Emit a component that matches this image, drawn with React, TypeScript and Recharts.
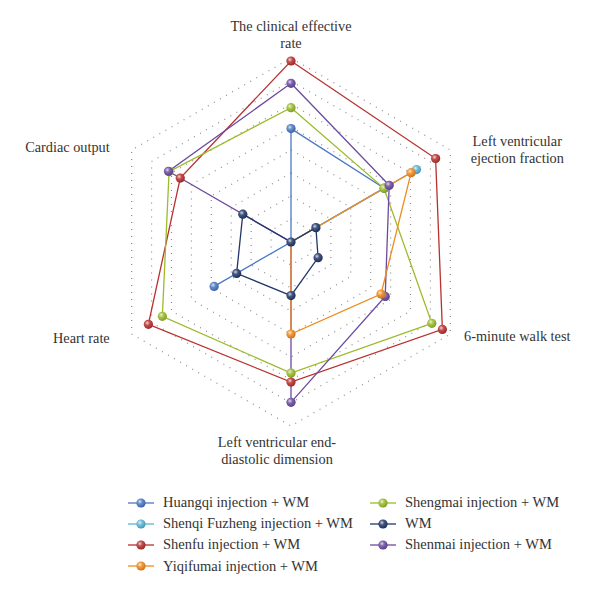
import React from "react";
import {
  RadarChart,
  PolarGrid,
  PolarAngleAxis,
  PolarRadiusAxis,
  Radar
} from "recharts";

// axes, clockwise from the top
const indicators = [
  "The clinical effective rate",
  "Left ventricular ejection fraction",
  "6-minute walk test",
  "Left ventricular end-diastolic dimension",
  "Heart rate",
  "Cardiac output"
];

// values (scale 0-8)
const huangqi = [4.93, 4.68, 0, 0, 3.86, 0];
const shenqiFuzheng = [0, 6.3, 0, 0, 0, 0];
const shenfu = [7.87, 7.26, 7.6, 6.09, 7.16, 5.56];
const yiqifumai = [0, 6.03, 4.52, 4.0, 0, 0];
const shengmai = [5.84, 4.67, 7.07, 5.7, 6.46, 6.12];
const wm = [0, 1.25, 1.36, 2.33, 2.73, 2.42];
const shenmai = [6.9, 4.93, 4.73, 6.97, 0, 6.15];

const seriesNames = [
  "Huangqi injection + WM",
  "Shenqi Fuzheng injection + WM",
  "Shenfu injection + WM",
  "Yiqifumai injection + WM",
  "Shengmai injection + WM",
  "WM",
  "Shenmai injection + WM"
];
const seriesValues = [huangqi, shenqiFuzheng, shenfu, yiqifumai, shengmai, wm, shenmai];
const COLORS = ["#4a78c4", "#5ab4d6", "#b8312f", "#ef8a1f", "#9bbb2b", "#22386a", "#6b4aa0"];

// paint order: WM last so its centre dot sits on top
const drawOrder = [0, 1, 2, 4, 6, 3, 5];

const data = indicators.map((name, i) => {
  const row: Record<string, string | number> = { indicator: name };
  seriesValues.forEach((vals, s) => {
    row["s" + s] = vals[i];
  });
  return row;
});

const FONT = "'Liberation Serif', 'DejaVu Serif', serif";

// label lines and placement tweaks per axis
const labelLines = [
  ["The clinical effective", "rate"],
  ["Left ventricular", "ejection fraction"],
  ["6-minute walk test"],
  ["Left ventricular end-", "diastolic dimension"],
  ["Heart rate"],
  ["Cardiac output"]
];
const labelPos = [
  { dx: 0, dy: -19, anchor: "middle" },
  { dx: 60, dy: 0, anchor: "middle" },
  { dx: 60, dy: 3, anchor: "middle" },
  { dx: -14, dy: 13, anchor: "middle" },
  { dx: -15, dy: 5, anchor: "end" },
  { dx: -15, dy: 6, anchor: "end" }
];

function AxisTick(props: any) {
  const { x, y, payload } = props;
  const i = indicators.indexOf(payload.value);
  const pos = labelPos[i];
  return (
    <text
      x={x + pos.dx}
      y={y + pos.dy}
      textAnchor={pos.anchor}
      fontFamily={FONT}
      fontSize={14.3}
      fill="#333"
    >
      {labelLines[i].map((line, k) => (
        <tspan key={k} x={x + pos.dx} dy={k === 0 ? 0 : 16.5}>
          {line}
        </tspan>
      ))}
    </text>
  );
}

function Ball({ cx, cy, color, id }: { cx: number; cy: number; color: string; id: string }) {
  return (
    <g>
      <defs>
        <radialGradient id={id} cx="38%" cy="35%" r="65%">
          <stop offset="0%" stopColor="#ffffff" stopOpacity={0.8} />
          <stop offset="40%" stopColor="#ffffff" stopOpacity={0.15} />
          <stop offset="100%" stopColor="#000000" stopOpacity={0.15} />
        </radialGradient>
      </defs>
      <circle cx={cx} cy={cy} r={4.6} fill={color} />
      <circle cx={cx} cy={cy} r={4.6} fill={`url(#${id})`} />
    </g>
  );
}

function makeDot(s: number) {
  return (props: any) => {
    const idx = props.index;
    const value = seriesValues[s][idx];
    // only WM keeps a marker at the centre
    if (!value && s !== 5) return <g key={`d${s}-${idx}`} />;
    return (
      <Ball
        key={`d${s}-${idx}`}
        cx={props.cx}
        cy={props.cy}
        color={COLORS[s]}
        id={`ball-${s}-${idx}`}
      />
    );
  };
}

function LegendIcon({ color, id }: { color: string; id: string }) {
  return (
    <svg width={26} height={12} style={{ display: "block" }}>
      <line x1={0} y1={6} x2={26} y2={6} stroke={color} strokeWidth={1.3} />
      <Ball cx={13} cy={6} color={color} id={id} />
    </svg>
  );
}

function ChartLegend() {
  const cols = [
    { left: 120, items: [0, 1, 2, 3] },
    { left: 362, items: [4, 5, 6] }
  ];
  return (
    <>
      {cols.map((col, c) => (
        <div key={c} style={{ position: "absolute", left: col.left, top: 484 }}>
          {col.items.map(s => (
            <div
              key={s}
              style={{ display: "flex", alignItems: "center", height: 21.2 }}
            >
              <LegendIcon color={COLORS[s]} id={`leg-${s}`} />
              <span
                style={{
                  marginLeft: 9,
                  fontFamily: FONT,
                  fontSize: 14.5,
                  color: "#333",
                  whiteSpace: "nowrap"
                }}
              >
                {seriesNames[s]}
              </span>
            </div>
          ))}
        </div>
      ))}
    </>
  );
}

export default function App() {
  return (
    <div style={{ position: "relative", width: 584, height: 587 }}>
      <RadarChart
        width={584}
        height={480}
        data={data}
        cx={283}
        cy={234}
        outerRadius={184}
        margin={{ top: 0, right: 0, bottom: 0, left: 0 }}
      >
        <PolarGrid
          gridType="polygon"
          radialLines={false}
          stroke="#8a8a8a"
          strokeWidth={1.2}
          strokeDasharray="1 6"
        />
        <PolarAngleAxis
          dataKey="indicator"
          tick={AxisTick}
          tickLine={false}
          axisLine={false}
        />
        <PolarRadiusAxis
          domain={[0, 8]}
          tickCount={9}
          tick={false}
          axisLine={false}
        />
        {drawOrder.map(s => (
          <Radar
            key={s}
            name={seriesNames[s]}
            dataKey={"s" + s}
            stroke={COLORS[s]}
            strokeWidth={1.3}
            fill="none"
            fillOpacity={0}
            dot={makeDot(s)}
            isAnimationActive={false}
          />
        ))}
      </RadarChart>
      <ChartLegend />
    </div>
  );
}
